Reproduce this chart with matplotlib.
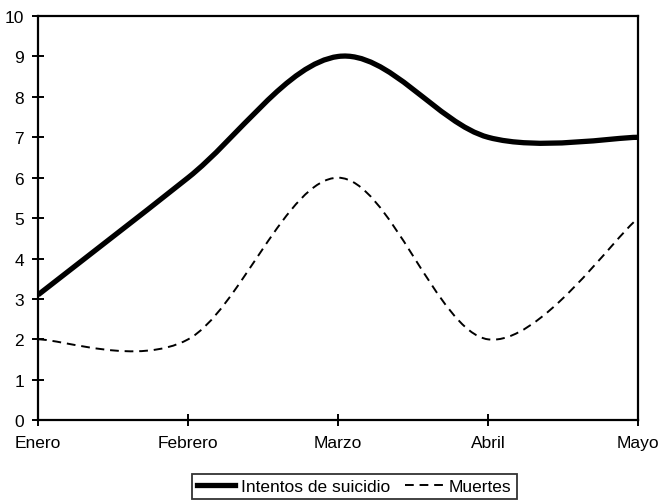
import numpy as np
import matplotlib
matplotlib.use('Agg')
import matplotlib.pyplot as plt
from matplotlib.path import Path
from matplotlib.patches import PathPatch
from matplotlib.lines import Line2D

plt.rcParams['font.family'] = ['Liberation Sans', 'DejaVu Sans']

meses = ["Enero", "Febrero", "Marzo", "Abril", "Mayo"]
intentos = [3.1, 6, 9, 7, 7]
muertes = [2, 2, 6, 2, 5]
y_ticks = list(range(0, 11))


def smooth_path(xs, ys):
    # Excel-style smoothed line: cubic Bezier with neighbour-based control points
    pts = np.column_stack([xs, ys]).astype(float)
    n = len(pts)
    verts = [pts[0]]
    codes = [Path.MOVETO]
    for i in range(n - 1):
        p_prev = pts[i - 1] if i > 0 else pts[i]
        p_next2 = pts[i + 2] if i + 2 < n else pts[i + 1]
        c1 = pts[i] + (pts[i + 1] - p_prev) / 6.0
        c2 = pts[i + 1] - (p_next2 - pts[i]) / 6.0
        verts += [c1, c2, pts[i + 1]]
        codes += [Path.CURVE4] * 3
    return Path(verts, codes)


fig = plt.figure(figsize=(6.61, 5.02), dpi=100)
ax = fig.add_axes([0.0575, 0.161, 0.908, 0.805])

dash = (0, (4.5, 3))
x = np.arange(len(meses))
ax.add_patch(PathPatch(smooth_path(x, intentos), fill=False, edgecolor='black',
                       linewidth=3.8, capstyle='butt'))
ax.add_patch(PathPatch(smooth_path(x, muertes), fill=False, edgecolor='black',
                       linewidth=1.4, linestyle=dash))

ax.set_xlim(0, len(meses) - 1)
ax.set_ylim(0, 10)
ax.set_xticks(x)
ax.set_xticklabels(meses)
ax.set_yticks(y_ticks)

for sp in ax.spines.values():
    sp.set_linewidth(1.6)
ax.tick_params(direction='inout', length=8, width=1.4, labelsize=12.5)
ax.tick_params(axis='x', pad=7)
ax.tick_params(axis='y', pad=6)

handles = [Line2D([], [], color='black', linewidth=3.8),
           Line2D([], [], color='black', linewidth=1.4, linestyle=dash)]
leg = fig.legend(handles, ["Intentos de suicidio", "Muertes"], ncol=2,
                 loc='upper center', bbox_to_anchor=(0.536, 0.054),
                 fontsize=12.5, frameon=True, fancybox=False,
                 handlelength=2.2, handletextpad=0.3, columnspacing=0.9,
                 borderpad=0.3, borderaxespad=0)
leg.get_frame().set_edgecolor('black')
leg.get_frame().set_linewidth(1.3)

fig.savefig("out.png", dpi=100)
